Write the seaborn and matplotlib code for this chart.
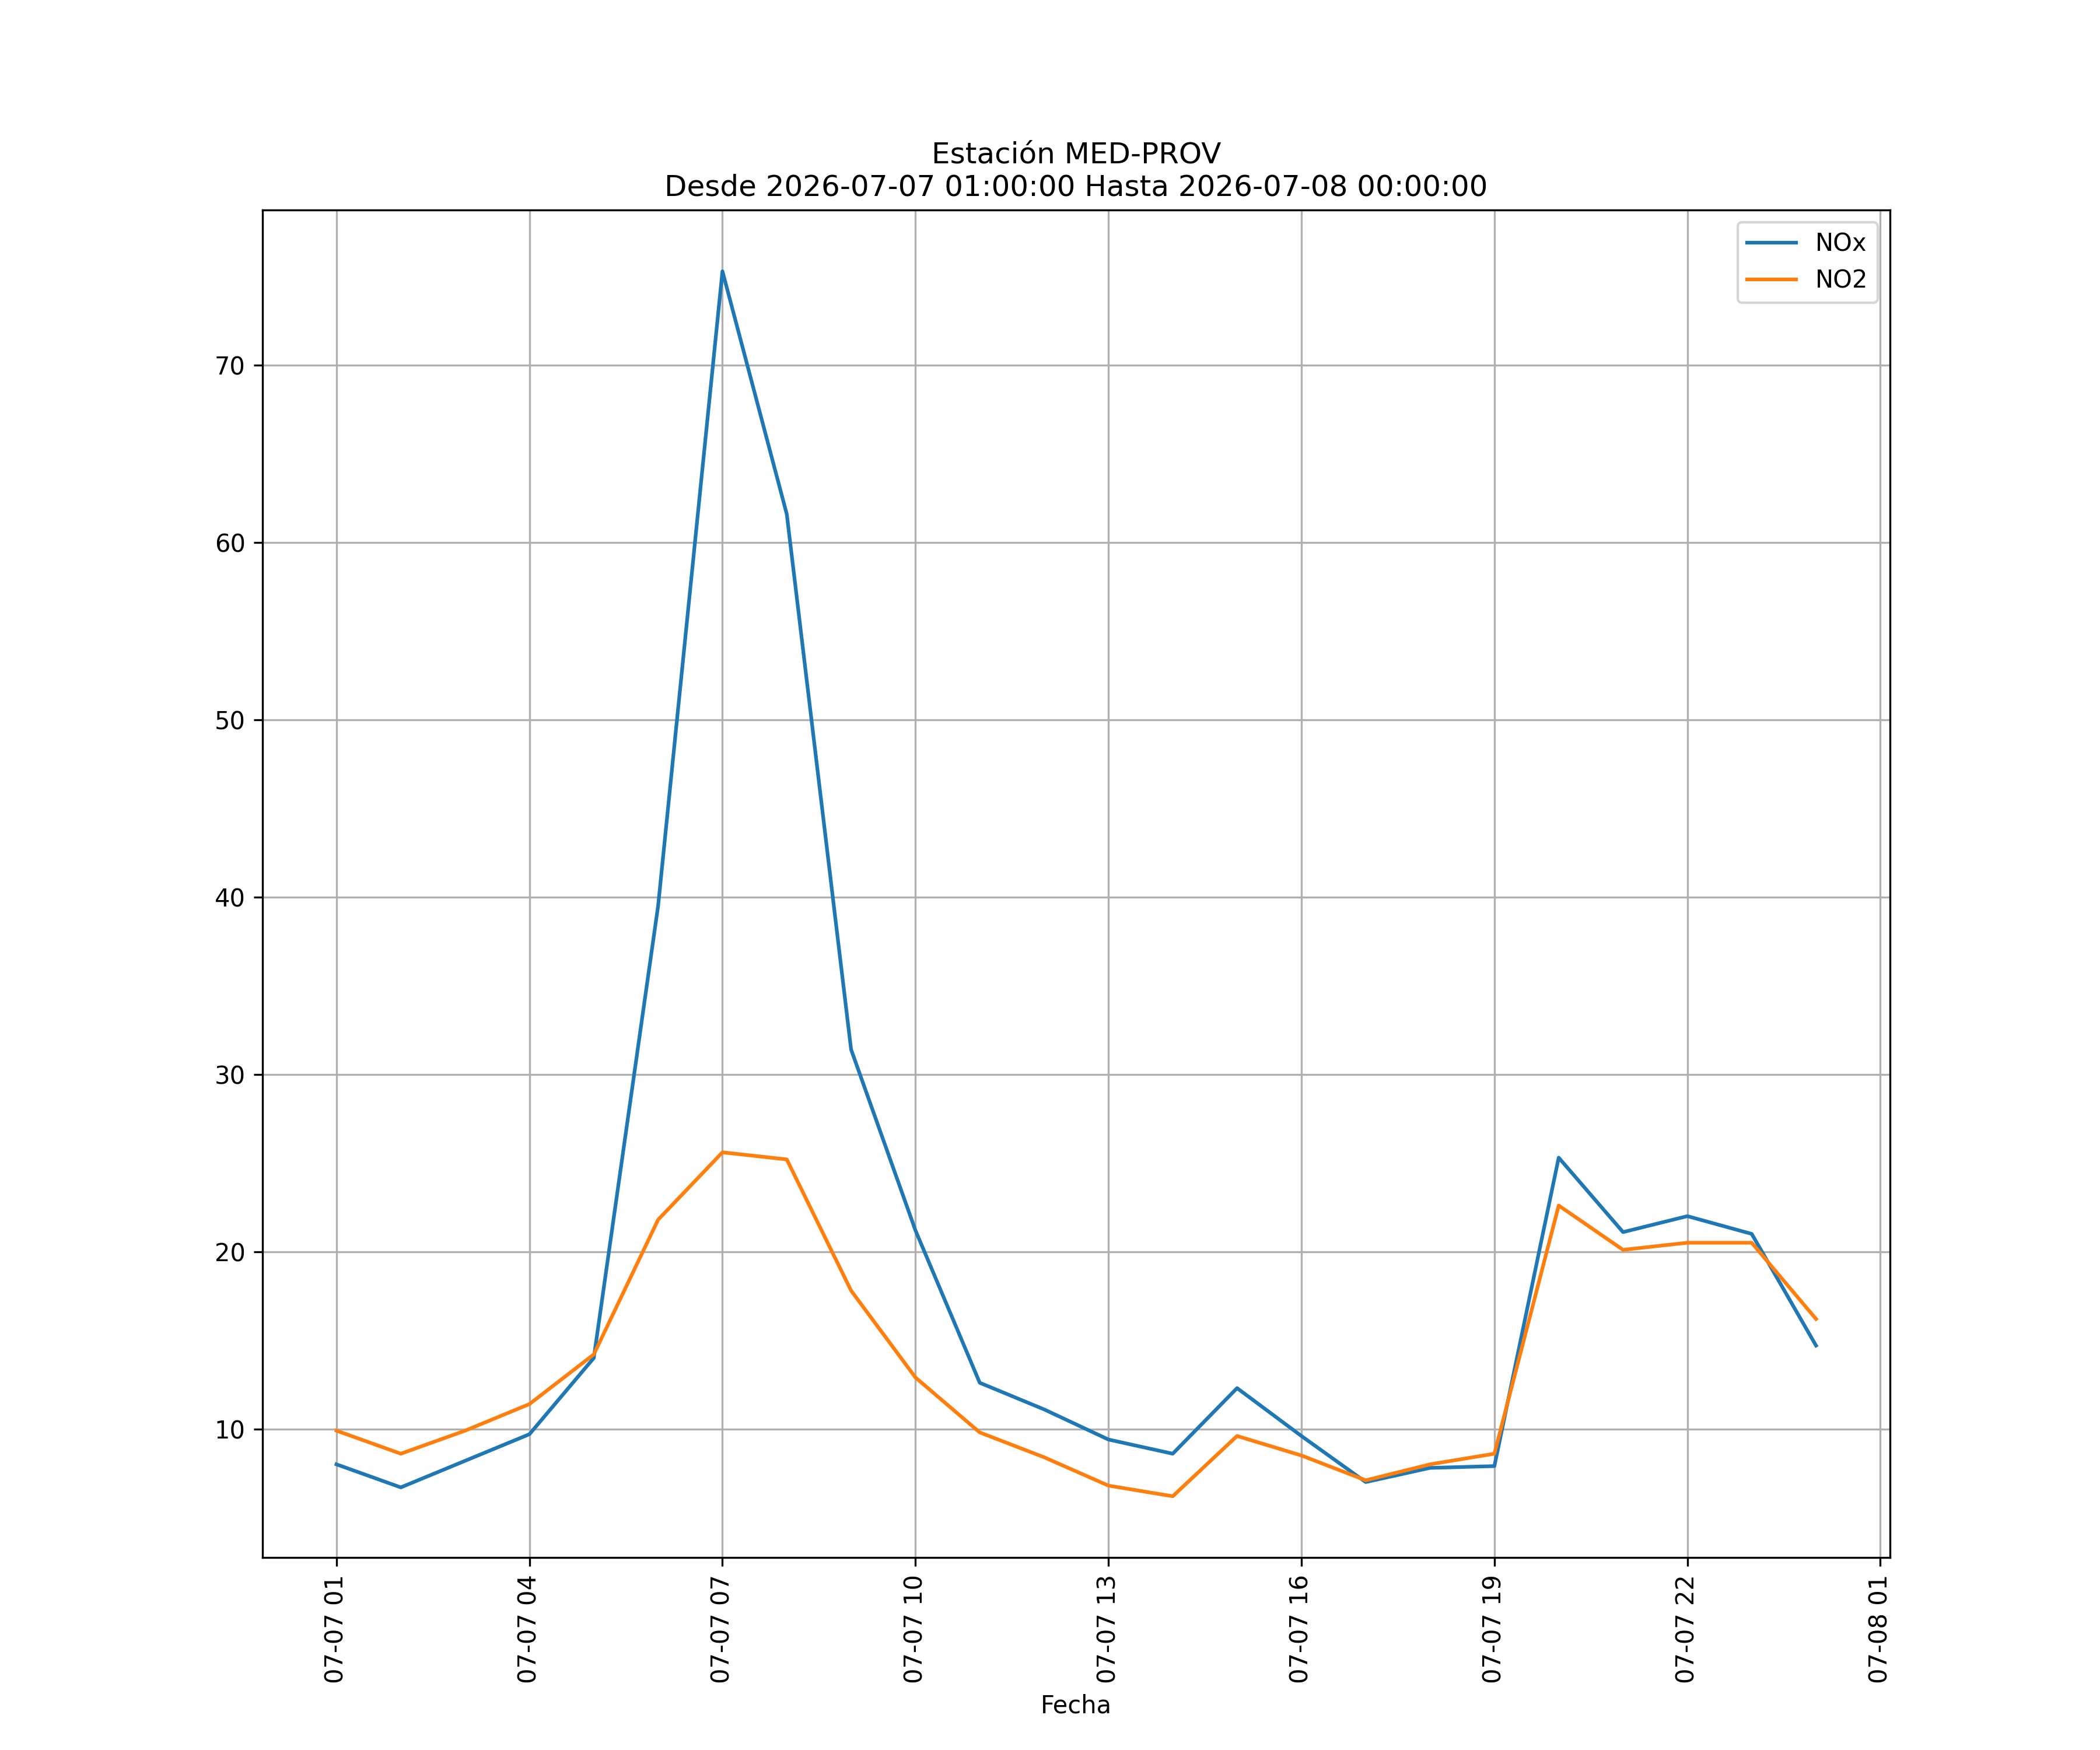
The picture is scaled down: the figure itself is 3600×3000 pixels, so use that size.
import pandas as pd
import matplotlib
matplotlib.use("Agg")
import matplotlib.pyplot as plt
import matplotlib.dates as mdates
import seaborn as sns

# hourly values, 2026-07-07 01:00 .. 2026-07-08 00:00
fechas = pd.date_range("2026-07-07 01:00", "2026-07-08 00:00", freq="h")
nox = [8.0, 6.7, 8.2, 9.7, 14.0, 39.5, 75.3, 61.6, 31.4, 21.2, 12.6, 11.1,
       9.4, 8.6, 12.3, 9.6, 7.0, 7.8, 7.9, 25.3, 21.1, 22.0, 21.0, 14.7]
no2 = [9.9, 8.6, 9.9, 11.4, 14.2, 21.8, 25.6, 25.2, 17.8, 12.9, 9.8, 8.4,
       6.8, 6.2, 9.6, 8.5, 7.1, 8.0, 8.6, 22.6, 20.1, 20.5, 20.5, 16.2]

df = pd.DataFrame({"Fecha": fechas, "NOx": nox, "NO2": no2})
df_long = df.melt(id_vars="Fecha", var_name="Contaminante", value_name="Valor")

fig, ax = plt.subplots(figsize=(12, 10), dpi=300)
sns.lineplot(data=df_long, x="Fecha", y="Valor", hue="Contaminante",
             palette=["#1f77b4", "#ff7f0e"], ax=ax)

ax.set_title("Estación MED-PROV\nDesde 2026-07-07 01:00:00 Hasta 2026-07-08 00:00:00")
ax.set_xlabel("Fecha")
ax.set_ylabel("")
ax.grid(True)
ax.xaxis.set_major_locator(mdates.HourLocator(byhour=[1, 4, 7, 10, 13, 16, 19, 22]))
ax.xaxis.set_major_formatter(mdates.DateFormatter("%m-%d %H"))
plt.setp(ax.get_xticklabels(), rotation=90)
ax.legend(title=None, loc="upper right")

fig.savefig("out.png")
